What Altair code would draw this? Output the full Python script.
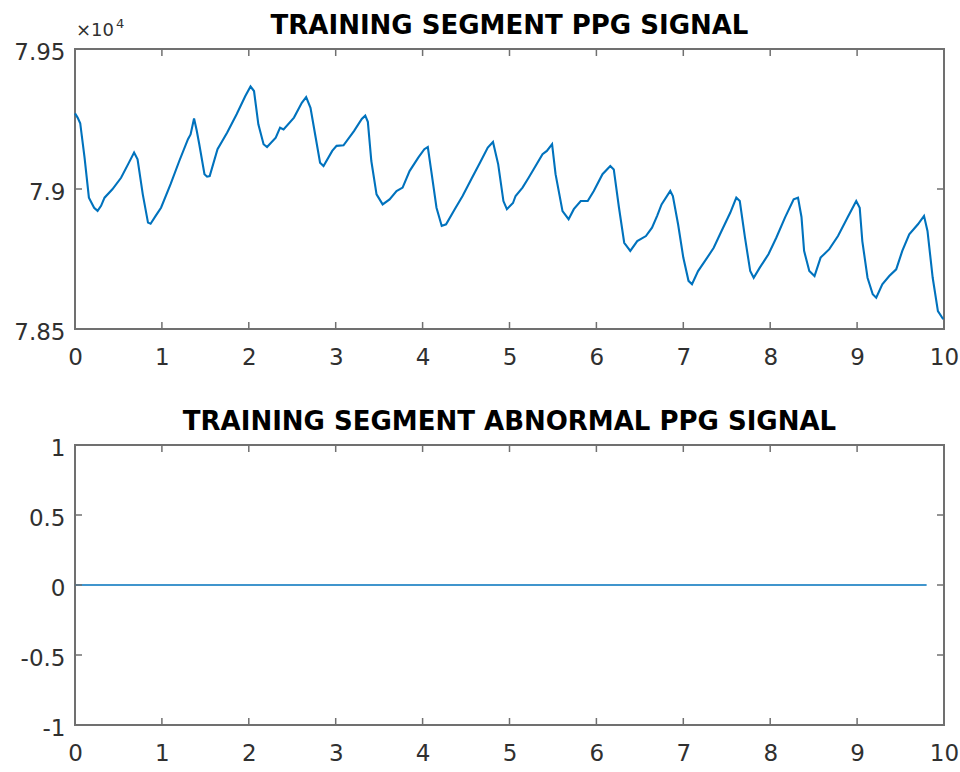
import altair as alt
import pandas as pd

# PPG training segment: time (s) and raw sensor value
time_s = [
    0.00, 0.03, 0.06, 0.11, 0.16, 0.22, 0.26, 0.30, 0.34, 0.43, 0.53, 0.61, 0.68, 0.72,
    0.78, 0.84, 0.87, 0.93, 0.99, 1.10, 1.20, 1.30, 1.33, 1.37, 1.40, 1.43, 1.49, 1.52,
    1.55, 1.64, 1.75, 1.86, 1.96, 2.02, 2.06, 2.11, 2.17, 2.21, 2.31, 2.36, 2.40, 2.52,
    2.61, 2.66, 2.71, 2.77, 2.82, 2.86, 2.96, 3.01, 3.09, 3.21, 3.30, 3.34, 3.37, 3.41,
    3.47, 3.54, 3.62, 3.70, 3.77, 3.85, 3.95, 4.02, 4.06, 4.10, 4.16, 4.22, 4.27, 4.37,
    4.46, 4.56, 4.66, 4.75, 4.81, 4.87, 4.93, 4.97, 5.04, 5.07, 5.15, 5.22, 5.30, 5.38,
    5.43, 5.49, 5.53, 5.61, 5.68, 5.74, 5.82, 5.90, 5.97, 6.07, 6.16, 6.20, 6.26, 6.32,
    6.39, 6.47, 6.57, 6.64, 6.70, 6.75, 6.85, 6.88, 6.94, 7.00, 7.06, 7.10, 7.17, 7.25,
    7.35, 7.44, 7.54, 7.61, 7.65, 7.71, 7.77, 7.81, 7.88, 7.98, 8.07, 8.17, 8.27, 8.32,
    8.36, 8.39, 8.45, 8.51, 8.58, 8.68, 8.78, 8.89, 8.99, 9.03, 9.06, 9.12, 9.18, 9.22,
    9.29, 9.37, 9.45, 9.52, 9.60, 9.70, 9.77, 9.81, 9.87, 9.93, 9.98, 9.99,
]
ppg = [
    79270, 79255, 79235, 79112, 78969, 78933, 78922, 78940, 78969, 78999, 79040, 79088, 79130, 79106,
    78981, 78880, 78876, 78905, 78933, 79017, 79100, 79178, 79195, 79252, 79210, 79160, 79053, 79044,
    79046, 79142, 79201, 79267, 79332, 79366, 79350, 79231, 79160, 79150, 79183, 79219, 79213, 79255,
    79308, 79328, 79290, 79183, 79094, 79082, 79136, 79154, 79156, 79207, 79250, 79262, 79240, 79100,
    78981, 78945, 78963, 78993, 79005, 79064, 79112, 79142, 79150, 79064, 78933, 78868, 78874, 78928,
    78975, 79035, 79094, 79148, 79168, 79088, 78957, 78928, 78950, 78975, 79005, 79040, 79082, 79124,
    79136, 79160, 79053, 78921, 78892, 78928, 78957, 78957, 78993, 79053, 79082, 79070, 78933, 78808,
    78779, 78814, 78832, 78862, 78905, 78945, 78993, 78975, 78874, 78755, 78672, 78660, 78707, 78743,
    78790, 78850, 78915, 78969, 78957, 78826, 78707, 78683, 78719, 78767, 78826, 78898, 78963, 78969,
    78900, 78779, 78707, 78689, 78755, 78785, 78832, 78898, 78957, 78933, 78814, 78683, 78624, 78612,
    78660, 78689, 78713, 78779, 78838, 78874, 78904, 78850, 78683, 78564, 78540, 78535,
]

# abnormal PPG segment: flat zero
abn_time = [0.0, 9.8]
abn_value = [0.0, 0.0]

x_ticks = list(range(0, 11))
ppg_ticks = [78500, 79000, 79500]
abn_ticks = [-1, -0.5, 0, 0.5, 1]

W, H = 869, 280
TICK = 7
FONT = "DejaVu Sans"
LINE = "#0072BD"
BOX = "#707070"
LABEL = "#303030"


def x_axis():
    return alt.Axis(values=x_ticks, labelExpr="'' + datum.value", title=None,
                    domain=False, ticks=False, grid=False, labelPadding=17,
                    labelFlush=False, labelOverlap=False, labelFont=FONT,
                    labelFontSize=23, labelColor=LABEL)


def y_axis(vals, expr):
    return alt.Axis(values=vals, labelExpr=expr, title=None, domain=False,
                    ticks=False, grid=False, labelPadding=10, labelOffset=3,
                    labelOverlap=False, labelFont=FONT, labelFontSize=23,
                    labelColor=LABEL, minExtent=64, maxExtent=64)


def tick_marks(xs, ys, xt, yt, yax):
    """Inward-pointing ticks on all four sides of the box."""
    xdf = pd.DataFrame({"v": xt})
    ydf = pd.DataFrame({"v": yt})
    style = dict(color=BOX, strokeWidth=1.5)
    bottom = alt.Chart(xdf).mark_rule(**style).encode(
        x=alt.X("v:Q", scale=xs, axis=x_axis()), y=alt.value(H), y2=alt.value(H - TICK))
    top = alt.Chart(xdf).mark_rule(**style).encode(
        x=alt.X("v:Q", scale=xs, axis=x_axis()), y=alt.value(0), y2=alt.value(TICK))
    left = alt.Chart(ydf).mark_rule(**style).encode(
        y=alt.Y("v:Q", scale=ys, axis=yax), x=alt.value(0), x2=alt.value(TICK))
    right = alt.Chart(ydf).mark_rule(**style).encode(
        y=alt.Y("v:Q", scale=ys, axis=yax), x=alt.value(W), x2=alt.value(W - TICK))
    return [bottom, top, left, right]


def panel_title(text, dy=0):
    return alt.TitleParams(text=text, font=FONT, fontSize=26, fontWeight="bold",
                           color="#000000", anchor="middle", frame="group",
                           baseline="alphabetic", offset=15, dy=dy)


xs = alt.Scale(domain=[0, 10], nice=False, zero=False)

# --- upper panel: PPG signal
ys_ppg = alt.Scale(domain=[78500, 79500], nice=False, zero=False)
ppg_yaxis = y_axis(ppg_ticks, "'' + datum.value / 10000")
ppg_line = alt.Chart(pd.DataFrame({"t": time_s, "ppg": ppg})).mark_line(
    color=LINE, strokeWidth=2.1).encode(
    x=alt.X("t:Q", scale=xs, axis=x_axis()),
    y=alt.Y("ppg:Q", scale=ys_ppg, axis=ppg_yaxis),
)
exp_base = alt.Chart(pd.DataFrame({"s": ["×10"]})).mark_text(
    font=FONT, fontSize=18, color=LABEL, align="left", baseline="alphabetic").encode(
    text="s:N", x=alt.value(1), y=alt.value(-13))
exp_pow = alt.Chart(pd.DataFrame({"s": ["4"]})).mark_text(
    font=FONT, fontSize=13, color=LABEL, align="left", baseline="alphabetic").encode(
    text="s:N", x=alt.value(41), y=alt.value(-21))

top_panel = alt.layer(
    ppg_line, *tick_marks(xs, ys_ppg, x_ticks, ppg_ticks, ppg_yaxis), exp_base, exp_pow
).properties(width=W, height=H,
             title=panel_title("TRAINING SEGMENT PPG SIGNAL", dy=57))

# --- lower panel: abnormal PPG signal
ys_abn = alt.Scale(domain=[-1, 1], nice=False, zero=False)
abn_yaxis = y_axis(abn_ticks, "'' + datum.value")
abn_line = alt.Chart(pd.DataFrame({"t": abn_time, "v": abn_value})).mark_line(
    color=LINE, strokeWidth=1.6).encode(
    x=alt.X("t:Q", scale=xs, axis=x_axis()),
    y=alt.Y("v:Q", scale=ys_abn, axis=abn_yaxis),
)
bottom_panel = alt.layer(
    abn_line, *tick_marks(xs, ys_abn, x_ticks, abn_ticks, abn_yaxis)
).properties(width=W, height=H,
             title=panel_title("TRAINING SEGMENT ABNORMAL PPG SIGNAL", dy=34))

chart = alt.vconcat(top_panel, bottom_panel, spacing=38).properties(
    padding={"left": 10, "top": 12, "right": 0, "bottom": 0}
).configure(background="white").configure_view(stroke=BOX, strokeWidth=2)

chart.save("out.html", embed_options={"renderer": "svg", "actions": False})
